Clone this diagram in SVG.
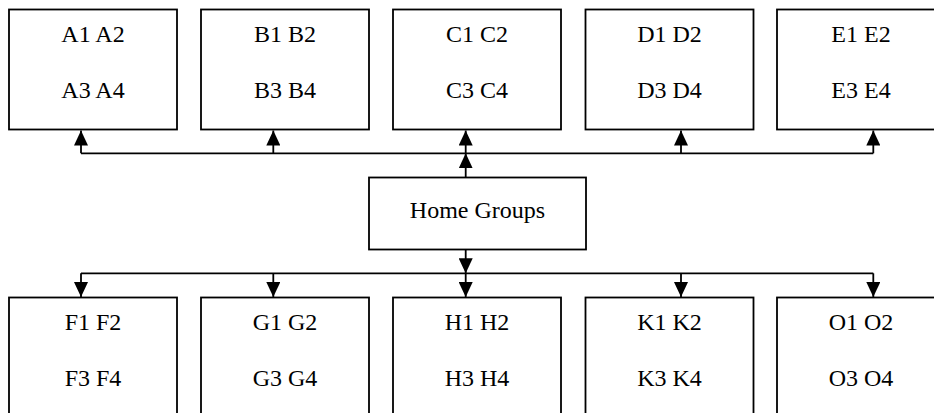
<svg xmlns="http://www.w3.org/2000/svg" width="934" height="413" viewBox="0 0 934 413">
<defs>
<style>
.box{fill:#fff;stroke:#000;stroke-width:1.8}
.t{font-family:'Liberation Serif',Times,serif;font-size:24px;fill:#000;text-anchor:middle}
.c{fill:none;stroke:#000;stroke-width:1.8}
.a{fill:none;stroke:#000;stroke-width:1.8;marker-end:url(#ah)}
</style>
<marker id="ah" viewBox="0 0 15 14" refX="15" refY="7" markerWidth="15" markerHeight="14" markerUnits="userSpaceOnUse" orient="auto">
<path d="M0,0 L15,7 L0,14 z" fill="#000"/>
</marker>
</defs>
<rect width="934" height="413" fill="#fff"/>
<g id="connectors">
<path class="c" d="M81,153.3 H873.3"/>
<path class="c" d="M81,273.3 H873.3"/>
<path class="a" d="M81,153.3 V130.5"/>
<path class="a" d="M273.3,153.3 V130.5"/>
<path class="a" d="M465.7,153.3 V130.5"/>
<path class="a" d="M681,153.3 V130.5"/>
<path class="a" d="M873.3,153.3 V130.5"/>
<path class="a" d="M465.7,177.5 V153.3"/>
<path class="a" d="M465.7,249 V273.3"/>
<path class="a" d="M81,273.3 V297"/>
<path class="a" d="M273.3,273.3 V297"/>
<path class="a" d="M465.7,273.3 V297"/>
<path class="a" d="M681,273.3 V297"/>
<path class="a" d="M873.3,273.3 V297"/>
</g>
<g font-family="Liberation Serif, serif">
<g id="nodeA"><rect class="box" x="9" y="9.5" width="168" height="120"/><text class="t" x="93" y="42">A1 A2</text><text class="t" x="93" y="98">A3 A4</text></g>
<g id="nodeB"><rect class="box" x="201" y="9.5" width="168" height="120"/><text class="t" x="285" y="42">B1 B2</text><text class="t" x="285" y="98">B3 B4</text></g>
<g id="nodeC"><rect class="box" x="393" y="9.5" width="168" height="120"/><text class="t" x="477" y="42">C1 C2</text><text class="t" x="477" y="98">C3 C4</text></g>
<g id="nodeD"><rect class="box" x="585.5" y="9.5" width="168" height="120"/><text class="t" x="669.5" y="42">D1 D2</text><text class="t" x="669.5" y="98">D3 D4</text></g>
<g id="nodeE"><rect class="box" x="777" y="9.5" width="168" height="120"/><text class="t" x="861" y="42">E1 E2</text><text class="t" x="861" y="98">E3 E4</text></g>
<g id="home"><rect class="box" x="369" y="177.5" width="217" height="72"/><text class="t" x="477.5" y="218">Home Groups</text></g>
<g id="nodeF"><rect class="box" x="9" y="297.5" width="168" height="130"/><text class="t" x="93" y="330">F1 F2</text><text class="t" x="93" y="386">F3 F4</text></g>
<g id="nodeG"><rect class="box" x="201" y="297.5" width="168" height="130"/><text class="t" x="285" y="330">G1 G2</text><text class="t" x="285" y="386">G3 G4</text></g>
<g id="nodeH"><rect class="box" x="393" y="297.5" width="168" height="130"/><text class="t" x="477" y="330">H1 H2</text><text class="t" x="477" y="386">H3 H4</text></g>
<g id="nodeK"><rect class="box" x="585.5" y="297.5" width="168" height="130"/><text class="t" x="669.5" y="330">K1 K2</text><text class="t" x="669.5" y="386">K3 K4</text></g>
<g id="nodeO"><rect class="box" x="777" y="297.5" width="168" height="130"/><text class="t" x="861" y="330">O1 O2</text><text class="t" x="861" y="386">O3 O4</text></g>
</g>
</svg>
